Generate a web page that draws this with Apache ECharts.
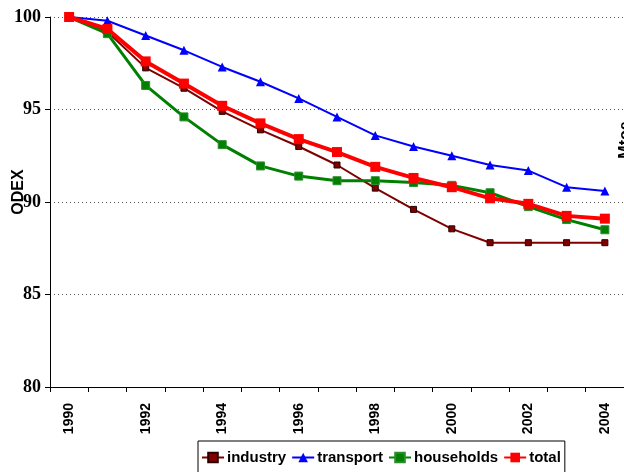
<!DOCTYPE html>
<html>
<head>
<meta charset="utf-8">
<script src="https://cdn.jsdelivr.net/npm/echarts@6/dist/echarts.min.js"></script>
<style>
html,body{margin:0;padding:0;background:#fff;}
#chart{width:624px;height:472px;}
</style>
</head>
<body>
<div id="chart"></div>
<script>
var years = ['1990','1991','1992','1993','1994','1995','1996','1997','1998','1999','2000','2001','2002','2003','2004'];
var industry   = [100, 99.2, 97.25, 96.15, 94.9, 93.9, 93.0, 92.0, 90.75, 89.6, 88.55, 87.8, 87.8, 87.8, 87.8];
var transport  = [100, 99.8, 99.0, 98.2, 97.3, 96.5, 95.6, 94.6, 93.6, 93.0, 92.5, 92.0, 91.7, 90.8, 90.6];
var households = [100, 99.1, 96.3, 94.6, 93.1, 91.95, 91.4, 91.15, 91.15, 91.05, 90.9, 90.5, 89.75, 89.05, 88.5];
var total      = [100, 99.35, 97.6, 96.4, 95.2, 94.25, 93.4, 92.7, 91.9, 91.3, 90.8, 90.2, 89.9, 89.25, 89.1];
var yTicks = [80, 85, 90, 95, 100];

var chart = echarts.init(document.getElementById('chart'));
chart.setOption({
  animation: false,
  backgroundColor: '#fff',
  grid: {left: 50, top: 17, right: 0, bottom: 85, containLabel: false, outerBoundsMode: 'none'},
  xAxis: {
    type: 'category',
    data: years,
    boundaryGap: true,
    axisLine: {lineStyle: {color: '#000', width: 1}},
    axisTick: {show: true, interval: 0, length: 5, lineStyle: {color: '#000'}},
    axisLabel: {
      interval: 1, rotate: 90, margin: 16,
      fontFamily: 'Liberation Sans, Arial, sans-serif', fontWeight: 'bold', fontSize: 14, color: '#000'
    },
    splitLine: {show: false}
  },
  yAxis: {
    type: 'value',
    min: yTicks[0], max: yTicks[yTicks.length - 1], interval: 5,
    name: 'ODEX',
    nameLocation: 'middle',
    nameGap: 23,
    nameRotate: 90,
    nameMoveOverlap: false,
    nameTextStyle: {fontFamily: 'Liberation Sans, Arial, sans-serif', fontWeight: 'bold', fontSize: 16, color: '#000', padding: [0, 0, 0, 20]},
    axisLine: {show: true, lineStyle: {color: '#000', width: 1}},
    axisTick: {show: true, length: 5, lineStyle: {color: '#000'}},
    axisLabel: {
      margin: 9,
      fontFamily: 'Liberation Serif, Times New Roman, serif', fontWeight: 'bold', fontSize: 18, color: '#000'
    },
    splitLine: {show: true, lineStyle: {color: '#555', type: [1, 3], width: 1}}
  },
  legend: {
    left: 198, top: 441,
    padding: [9, 4, 30, 3],
    itemGap: 5,
    itemWidth: 22, itemHeight: 12,
    borderColor: '#000', borderWidth: 1, borderRadius: 0,
    textStyle: {fontFamily: 'Liberation Sans, Arial, sans-serif', fontWeight: 'bold', fontSize: 15, color: '#000', padding: [0,0,0,-2]},
    data: ['industry', 'transport', 'households', 'total']
  },
  graphic: [{
    type: 'text',
    x: 626, y: 140,
    rotation: Math.PI / 2,
    style: {
      text: 'Mtoe', fill: '#000',
      font: 'bold 16px "Liberation Sans", Arial, sans-serif',
      align: 'center', verticalAlign: 'middle'
    }
  }],
  series: [
    {name: 'industry', type: 'line', data: industry, color: '#800000',
     lineStyle: {width: 2, color: '#800000'}, symbol: 'rect', symbolSize: 6,
     itemStyle: {color: '#800000', borderColor: '#2a0000', borderWidth: 1}},
    {name: 'transport', type: 'line', data: transport, color: '#0000ff',
     lineStyle: {width: 2, color: '#0000ff'}, symbol: 'triangle', symbolSize: 9,
     itemStyle: {color: '#0000ff'}},
    {name: 'households', type: 'line', data: households, color: '#008000',
     lineStyle: {width: 3, color: '#008000'}, symbol: 'rect', symbolSize: 8,
     itemStyle: {color: '#008000', borderColor: '#2e8b2e', borderWidth: 1}},
    {name: 'total', type: 'line', data: total, color: '#ff0000',
     lineStyle: {width: 4, color: '#ff0000'}, symbol: 'rect', symbolSize: 10,
     itemStyle: {color: '#ff0000'}}
  ]
});
</script>
</body>
</html>
